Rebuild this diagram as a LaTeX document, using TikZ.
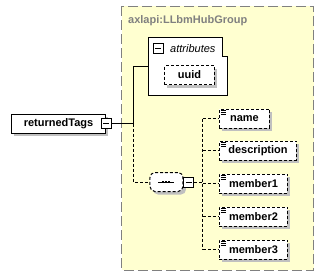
\documentclass[tikz,border=0pt]{standalone}
\usepackage{fontspec}
\setmainfont{Liberation Sans}
\usetikzlibrary{positioning,shadows}

\definecolor{grpfill}{RGB}{255,255,208}
\definecolor{grpline}{RGB}{128,128,128}
\definecolor{shade}{RGB}{192,192,192}

\tikzset{
  lbl/.style={font=\fontsize{11}{13}\selectfont\bfseries},
  box/.style={lbl, draw, fill=white, line width=1pt, inner sep=0pt, minimum height=19pt,
    drop shadow={shadow xshift=3pt, shadow yshift=-3pt, fill=shade, opacity=1}},
  opt/.style={box, dash pattern=on 3pt off 2pt},
  minus/.style={draw, fill=white, line width=1pt, minimum size=10pt, inner sep=0pt,
    path picture={\draw[line width=1pt] ([xshift=2pt]path picture bounding box.west)
      -- ([xshift=-2pt]path picture bounding box.east);}},
  link/.style={line width=1pt},
  optlink/.style={link, dash pattern=on 3pt off 2pt},
}

\begin{document}
\begin{tikzpicture}[x=1pt, y=-1pt]
  \useasboundingbox (0,0) rectangle (325,277);

  % complex type group
  \draw[grpline, fill=grpfill, line width=1pt, dash pattern=on 10pt off 4pt] (122,6) rectangle (314,270);
  \node[lbl, text=grpline, anchor=base west, inner sep=0pt] (grp) at (128,23) {axlapi:LLbmHubGroup};

  % attributes
  \node[minimum width=78pt, minimum height=57pt, inner sep=0pt] (attrs) at (188,66.5) {};
  \draw[link, fill=white] (attrs.north west) -- ([xshift=-5pt]attrs.north east) -- ++(0,19)
    -- ++(5,0) -- (attrs.south east) -- (attrs.south west) -- cycle;
  \node[minus] (amin) at (158.5,48.5) {};
  \node[right=6pt of amin, inner sep=0pt, font=\fontsize{11}{13}\selectfont\itshape] (atxt) {attributes};
  \node[opt, minimum width=50pt, anchor=north west] (uuid) at (164,65) {uuid};

  % element and its sequence
  \node[box, minimum width=94pt, anchor=west] (rtags) at (11,123.5) {returnedTags};
  \node[minus] (rmin) at ([xshift=0.5pt]rtags.east) {};
  \coordinate (j) at (134,123.5);

  \node[draw, fill=white, line width=1pt, dash pattern=on 3pt off 2pt, rounded corners=5pt,
    minimum width=33pt, minimum height=19pt, inner sep=0pt,
    drop shadow={shadow xshift=3pt, shadow yshift=-3pt, fill=shade, opacity=1}] (seq) at (166.5,182) {};
  \node[minus, right=0pt of seq] (smin) {};
  \draw[link] ([xshift=-8pt]seq.center) -- ([xshift=8pt]seq.center);
  \foreach \dx in {-3,0,3}
    \fill ([xshift=\dx pt]seq.center) +(-1,-1) rectangle +(1,1);
  \coordinate (bus) at (203,182);

  \node[opt, minimum width=50pt, anchor=west] (name) at (219,118.5) {name};
  \node[opt, minimum width=77pt, below=12pt of name.south west, anchor=north west] (descr) {description};
  \node[opt, minimum width=68pt, below=13pt of descr.south west, anchor=north west] (mem1) {member1};
  \node[opt, minimum width=68pt, below=13pt of mem1.south west, anchor=north west] (mem2) {member2};
  \node[opt, minimum width=68pt, below=13pt of mem2.south west, anchor=north west] (mem3) {member3};

  \draw[link] (rmin.east) -- (j) |- (attrs.west);
  \draw[optlink] (j) |- (seq.west);
  \draw[optlink] (smin.east) -- (bus);
  \draw[optlink] (bus |- name.west) -- (bus |- mem3.west);
  \foreach \e in {name,descr,mem1,mem2,mem3}{
    \draw[optlink] (bus |- \e.west) -- (\e.west);
    \foreach \dy in {2,4,6}
      \draw[line width=0.8pt] ([xshift=2pt,yshift=-\dy pt]\e.north west) -- ++(5,0);
  }
\end{tikzpicture}
\end{document}
